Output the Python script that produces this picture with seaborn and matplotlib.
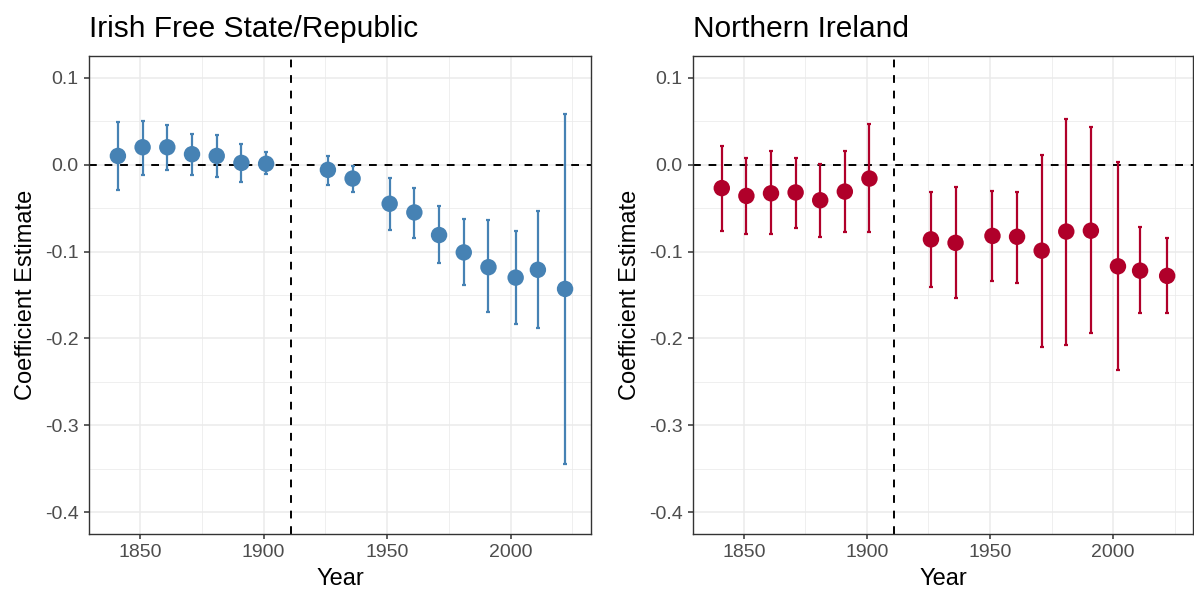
import matplotlib
matplotlib.use("Agg")
import matplotlib.pyplot as plt
import seaborn as sns
import numpy as np
import pandas as pd

# ---- data ----
years = [1841, 1851, 1861, 1871, 1881, 1891, 1901, 1926, 1936, 1951,
         1961, 1971, 1981, 1991, 2002, 2011, 2022]

roi_est = [0.010, 0.020, 0.020, 0.012, 0.010, 0.002, 0.001, -0.006, -0.016, -0.045,
           -0.055, -0.081, -0.101, -0.118, -0.130, -0.121, -0.143]
roi_lo = [-0.029, -0.012, -0.006, -0.012, -0.014, -0.020, -0.011, -0.023, -0.031, -0.075,
          -0.084, -0.113, -0.139, -0.170, -0.183, -0.188, -0.344]
roi_hi = [0.049, 0.050, 0.046, 0.035, 0.034, 0.024, 0.014, 0.010, -0.002, -0.015,
          -0.027, -0.048, -0.063, -0.064, -0.076, -0.053, 0.058]

ni_est = [-0.027, -0.036, -0.033, -0.032, -0.041, -0.031, -0.016, -0.086, -0.090, -0.082,
          -0.083, -0.099, -0.077, -0.076, -0.117, -0.122, -0.128]
ni_lo = [-0.076, -0.080, -0.080, -0.073, -0.083, -0.077, -0.078, -0.141, -0.153, -0.134,
         -0.136, -0.210, -0.207, -0.194, -0.236, -0.171, -0.171]
ni_hi = [0.022, 0.008, 0.016, 0.008, 0.001, 0.016, 0.047, -0.032, -0.026, -0.030,
         -0.031, 0.011, 0.052, 0.043, 0.003, -0.072, -0.084]

titles = ["Irish Free State/Republic", "Northern Ireland"]
colors = ["#4682B4", "#B0002A"]
y_ticks = [-0.4, -0.3, -0.2, -0.1, 0.0, 0.1]
y_tick_labels = ["-0.4", "-0.3", "-0.2", "-0.1", "0.0", "0.1"]
x_ticks = [1850, 1900, 1950, 2000]
partition_year = 1911

sns.set_theme(style="white")
plt.rcParams["font.family"] = ["Liberation Sans", "DejaVu Sans"]

fig = plt.figure(figsize=(11.94, 5.92), dpi=100)
W, H = 1194, 592
ax_boxes = [(89, 56, 591, 534), (693, 56, 1193, 534)]

panels = [(roi_est, roi_lo, roi_hi), (ni_est, ni_lo, ni_hi)]

for i, ((est, lo, hi), (x0, y0, x1, y1)) in enumerate(zip(panels, ax_boxes)):
    ax = fig.add_axes([x0 / W, 1 - y1 / H, (x1 - x0) / W, (y1 - y0) / H])
    df = pd.DataFrame({"Year": years, "est": est, "lo": lo, "hi": hi})
    est_a = np.array(est)
    yerr = np.vstack([est_a - np.array(lo), np.array(hi) - est_a])

    # grid
    ax.set_axisbelow(True)
    ax.set_xticks(x_ticks)
    ax.set_xticks([1875, 1925, 1975, 2025], minor=True)
    ax.set_yticks(y_ticks)
    ax.set_yticklabels(y_tick_labels)
    ax.set_yticks([-0.35, -0.25, -0.15, -0.05, 0.05], minor=True)
    ax.grid(True, which="major", color="#EBEBEB", linewidth=1.1)
    ax.grid(True, which="minor", color="#EBEBEB", linewidth=0.55)

    ax.axhline(0, color="black", linestyle=(0, (4, 4)), linewidth=1.4, zorder=1.5)
    ax.axvline(partition_year, color="black", linestyle=(0, (4, 4)), linewidth=1.4, zorder=1.5)

    ax.errorbar(df["Year"], df["est"], yerr=yerr, fmt="none", ecolor=colors[i],
                elinewidth=1.6, capsize=1.5, capthick=1.6, zorder=2)
    sns.scatterplot(data=df, x="Year", y="est", ax=ax, color=colors[i], s=140,
                    edgecolor="none", linewidth=0, zorder=3, legend=False)

    ax.set_xlim(1829.3, 2032.5)
    ax.set_ylim(-0.425, 0.125)

    for sp in ax.spines.values():
        sp.set_color("#333333")
        sp.set_linewidth(1.0)
    ax.tick_params(axis="both", which="major", length=3.8, width=1.1, color="#333333",
                   labelsize=14, labelcolor="#4D4D4D", pad=3.5, direction="out",
                   bottom=True, left=True)
    ax.tick_params(axis="both", which="minor", length=0)

    ax.set_xlabel("Year", fontsize=17, color="black", labelpad=5)
    ax.set_ylabel("Coefficient Estimate", fontsize=17, color="black", labelpad=6)
    ax.set_title(titles[i], loc="left", fontsize=21.5, color="black", pad=14)

fig.savefig("out.png", dpi=100)
